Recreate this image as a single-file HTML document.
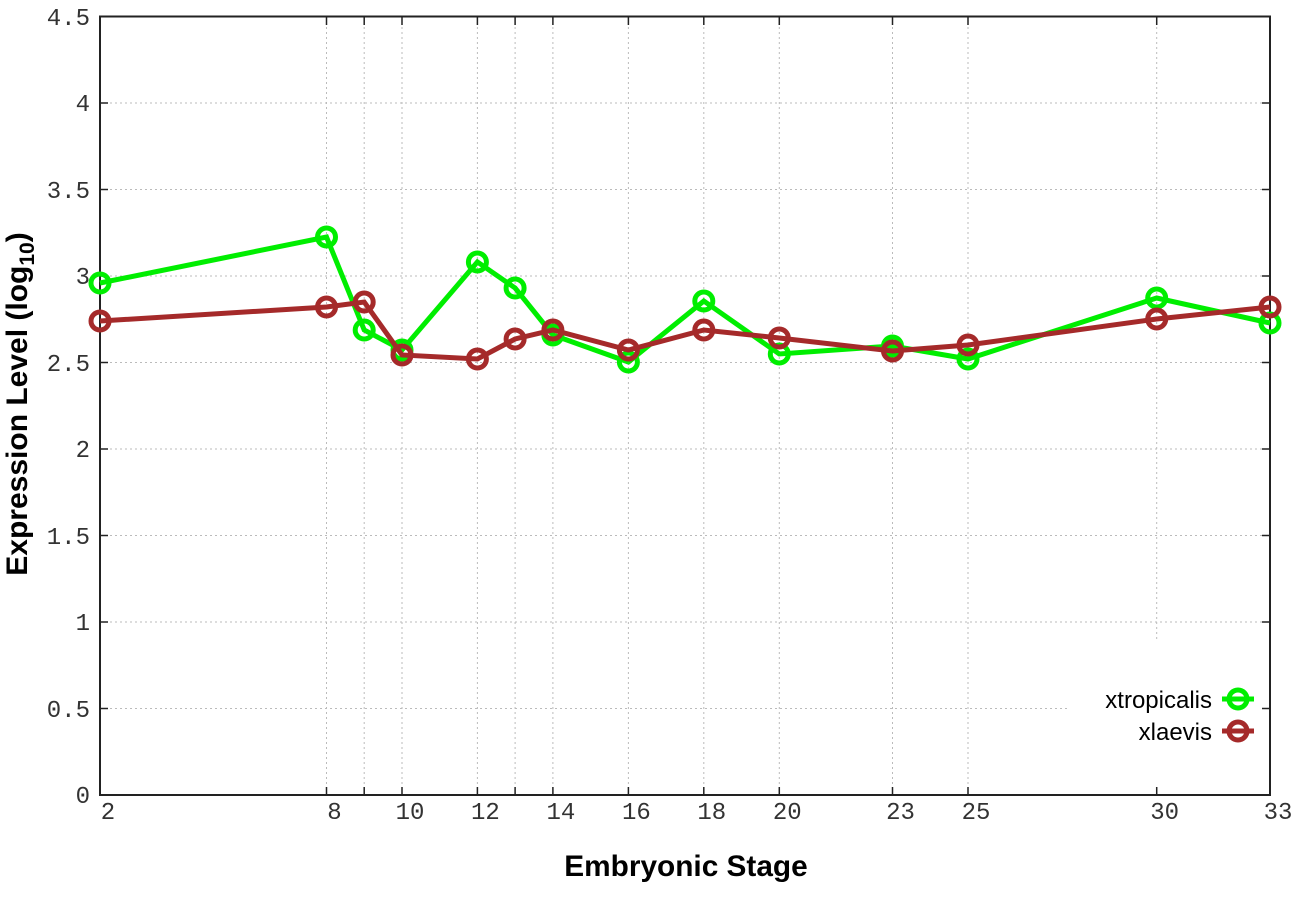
<!DOCTYPE html>
<html><head><meta charset="utf-8"><style>body{margin:0;background:#fff}svg{display:block}</style></head><body>
<svg width="1296" height="907" viewBox="0 0 1296 907" xmlns="http://www.w3.org/2000/svg">
<g stroke="#bbb" stroke-width="1" stroke-dasharray="2,3">
<line x1="100" y1="103" x2="1270" y2="103"/><line x1="100" y1="189.5" x2="1270" y2="189.5"/><line x1="100" y1="276" x2="1270" y2="276"/><line x1="100" y1="362.5" x2="1270" y2="362.5"/><line x1="100" y1="449" x2="1270" y2="449"/><line x1="100" y1="535.5" x2="1270" y2="535.5"/><line x1="100" y1="622" x2="1270" y2="622"/><line x1="100" y1="708.5" x2="1070" y2="708.5"/>
<line x1="326.5" y1="17" x2="326.5" y2="795"/><line x1="364.2" y1="17" x2="364.2" y2="795"/><line x1="402" y1="17" x2="402" y2="795"/><line x1="477.4" y1="17" x2="477.4" y2="795"/><line x1="515.1" y1="17" x2="515.1" y2="795"/><line x1="552.9" y1="17" x2="552.9" y2="795"/><line x1="628.4" y1="17" x2="628.4" y2="795"/><line x1="703.8" y1="17" x2="703.8" y2="795"/><line x1="779.3" y1="17" x2="779.3" y2="795"/><line x1="892.5" y1="17" x2="892.5" y2="795"/><line x1="968" y1="17" x2="968" y2="795"/><line x1="1156.7" y1="17" x2="1156.7" y2="640"/>
</g>
<rect x="100" y="16.5" width="1170" height="778.5" fill="none" stroke="#222" stroke-width="2"/>
<g stroke="#222" stroke-width="1.5">
<path d="M100 103h8M100 189.5h8M100 276h8M100 362.5h8M100 449h8M100 535.5h8M100 622h8M100 708.5h8M1270 103h-8M1270 189.5h-8M1270 276h-8M1270 362.5h-8M1270 449h-8M1270 535.5h-8M1270 622h-8M1270 708.5h-8"/>
<path d="M326.5 795v-8M364.2 795v-8M402 795v-8M477.4 795v-8M515.1 795v-8M552.9 795v-8M628.4 795v-8M703.8 795v-8M779.3 795v-8M892.5 795v-8M968 795v-8M1156.7 795v-8M326.5 17v8M364.2 17v8M402 17v8M477.4 17v8M515.1 17v8M552.9 17v8M628.4 17v8M703.8 17v8M779.3 17v8M892.5 17v8M968 17v8M1156.7 17v8"/>
</g>
<g font-family="Liberation Mono, monospace" font-size="24" fill="#333" text-anchor="end">
<text x="90" y="25">4.5</text><text x="90" y="111">4</text><text x="90" y="198">3.5</text><text x="90" y="284">3</text><text x="90" y="371">2.5</text><text x="90" y="457">2</text><text x="90" y="544">1.5</text><text x="90" y="630">1</text><text x="90" y="717">0.5</text><text x="90" y="803">0</text>
</g>
<g font-family="Liberation Mono, monospace" font-size="24" fill="#333" text-anchor="middle">
<text x="108" y="819">2</text><text x="334.5" y="819">8</text><text x="410" y="819">10</text><text x="485.4" y="819">12</text><text x="560.9" y="819">14</text><text x="636.4" y="819">16</text><text x="711.8" y="819">18</text><text x="787.3" y="819">20</text><text x="900.5" y="819">23</text><text x="976" y="819">25</text><text x="1164.7" y="819">30</text><text x="1278" y="819">33</text>
</g>
<text x="686" y="876" font-family="Liberation Sans, sans-serif" font-weight="bold" font-size="29.8" text-anchor="middle">Embryonic Stage</text>
<text transform="translate(27,404) rotate(-90)" font-family="Liberation Sans, sans-serif" font-weight="bold" font-size="30" text-anchor="middle">Expression Level (log<tspan font-size="21" dy="7">10</tspan><tspan dy="-7">)</tspan></text>
<g fill="none" stroke="#00ee00" stroke-width="5">
<polyline points="100,283 326.5,237 364.2,330 402,350 477.4,262 515.1,288 552.9,335 628.4,362 703.8,301 779.3,354 892.5,346 968,359 1156.7,298 1270,323"/>
<circle cx="100" cy="283" r="9"/><circle cx="326.5" cy="237" r="9"/><circle cx="364.2" cy="330" r="9"/><circle cx="402" cy="350" r="9"/><circle cx="477.4" cy="262" r="9"/><circle cx="515.1" cy="288" r="9"/><circle cx="552.9" cy="335" r="9"/><circle cx="628.4" cy="362" r="9"/><circle cx="703.8" cy="301" r="9"/><circle cx="779.3" cy="354" r="9"/><circle cx="892.5" cy="346" r="9"/><circle cx="968" cy="359" r="9"/><circle cx="1156.7" cy="298" r="9"/><circle cx="1270" cy="323" r="9"/>
<line x1="1222" y1="699" x2="1254" y2="699"/><circle cx="1238" cy="699" r="9"/>
</g>
<g fill="none" stroke="#a52a2a" stroke-width="5">
<polyline points="100,321 326.5,307 364.2,302 402,355 477.4,359 515.1,339 552.9,330 628.4,350 703.8,330 779.3,338 892.5,351 968,345 1156.7,319 1270,307"/>
<circle cx="100" cy="321" r="9"/><circle cx="326.5" cy="307" r="9"/><circle cx="364.2" cy="302" r="9"/><circle cx="402" cy="355" r="9"/><circle cx="477.4" cy="359" r="9"/><circle cx="515.1" cy="339" r="9"/><circle cx="552.9" cy="330" r="9"/><circle cx="628.4" cy="350" r="9"/><circle cx="703.8" cy="330" r="9"/><circle cx="779.3" cy="338" r="9"/><circle cx="892.5" cy="351" r="9"/><circle cx="968" cy="345" r="9"/><circle cx="1156.7" cy="319" r="9"/><circle cx="1270" cy="307" r="9"/>
<line x1="1222" y1="731" x2="1254" y2="731"/><circle cx="1238" cy="731" r="9"/>
</g>
<g font-family="Liberation Sans, sans-serif" font-size="24" fill="#000" text-anchor="end">
<text x="1212" y="708">xtropicalis</text><text x="1212" y="740">xlaevis</text>
</g>
</svg>
</body></html>
